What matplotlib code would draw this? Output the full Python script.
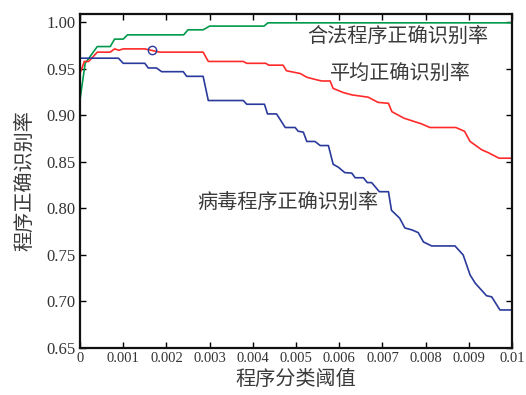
import matplotlib
matplotlib.use("Agg")
import matplotlib.pyplot as plt
from matplotlib.ticker import FixedLocator

# ---- data ----
green_x = [0, 0.00012, 0.0004, 0.0007, 0.0008, 0.0010, 0.0011, 0.0024, 0.0025, 0.00285, 0.0030, 0.00426, 0.00435, 0.0100]
green_y = [0.917, 0.956, 0.974, 0.974, 0.982, 0.982, 0.9866, 0.9866, 0.992, 0.992, 0.996, 0.996, 0.9995, 0.9995]

red_x = [0, 0.0001, 0.0002, 0.0004, 0.0007, 0.0008, 0.0009, 0.0010, 0.0011, 0.0015, 0.00185,
         0.00285, 0.00297, 0.00378, 0.00386, 0.0043, 0.00437, 0.0047, 0.00478, 0.0051, 0.00525,
         0.0055, 0.0056, 0.00579, 0.00586, 0.0061, 0.0063, 0.00667, 0.0069, 0.00714, 0.00722,
         0.0075, 0.0077, 0.0079, 0.0081, 0.0087, 0.0089, 0.00903, 0.0093, 0.00945, 0.0097, 0.0100]
red_y = [0.945, 0.958, 0.958, 0.968, 0.968, 0.9715, 0.970, 0.9715, 0.9715, 0.9715, 0.968,
         0.968, 0.958, 0.958, 0.956, 0.956, 0.954, 0.954, 0.948, 0.945, 0.941,
         0.938, 0.937, 0.937, 0.929, 0.9245, 0.922, 0.9196, 0.914, 0.913, 0.904,
         0.897, 0.894, 0.891, 0.887, 0.887, 0.883, 0.872, 0.863, 0.860, 0.854, 0.854]

blue_x = [0, 0.00089, 0.0010, 0.0015, 0.00158, 0.00177, 0.00189, 0.00239, 0.00247, 0.00285,
          0.00297, 0.00378, 0.00386, 0.00427, 0.00434, 0.00455, 0.00475, 0.00498, 0.00505, 0.00517,
          0.00525, 0.00544, 0.00556, 0.00575, 0.00586, 0.00598, 0.00613, 0.00629, 0.00637, 0.00656,
          0.00665, 0.00675, 0.00693, 0.00714, 0.00721, 0.0074, 0.00752, 0.00768, 0.00783, 0.00795,
          0.00814, 0.00868, 0.00887, 0.00903, 0.00915, 0.00941, 0.00953, 0.00972, 0.0100]
blue_y = [0.9615, 0.9615, 0.956, 0.956, 0.951, 0.951, 0.947, 0.947, 0.942, 0.942,
          0.916, 0.916, 0.912, 0.912, 0.9016, 0.9016, 0.887, 0.887, 0.883, 0.882,
          0.872, 0.872, 0.8676, 0.8676, 0.8475, 0.8443, 0.8385, 0.838, 0.833, 0.833,
          0.8278, 0.8278, 0.818, 0.818, 0.798, 0.7895, 0.779, 0.777, 0.774, 0.764,
          0.7597, 0.7597, 0.750, 0.7285, 0.7196, 0.7062, 0.705, 0.6909, 0.6909]

marker_x = [0.00167]
marker_y = [0.970]

x_ticks = [0, 0.001, 0.002, 0.003, 0.004, 0.005, 0.006, 0.007, 0.008, 0.009, 0.01]
x_tick_labels = ['0', '0.001', '0.002', '0.003', '0.004', '0.005', '0.006', '0.007', '0.008', '0.009', '0.01']
y_ticks = [0.65, 0.70, 0.75, 0.80, 0.85, 0.90, 0.95, 1.00]
y_tick_labels = ['0.65', '0.70', '0.75', '0.80', '0.85', '0.90', '0.95', '1.00']

label_legal = '合法程序正确识别率'
label_avg = '平均正确识别率'
label_virus = '病毒程序正确识别率'
x_label = '程序分类阈值'
y_label = '程序正确识别率'

# ---- figure ----
cjk = ['Noto Sans CJK SC', 'DejaVu Sans']
fig = plt.figure(figsize=(5.26, 3.95), dpi=100)
ax = fig.add_axes([80/526, 1-348/395, 432/526, 334/395])

ax.plot(green_x, green_y, color='#00994a', lw=1.2)
ax.plot(red_x, red_y, color='#ff2a2a', lw=1.2)
ax.plot(blue_x, blue_y, color='#2a3a9c', lw=1.2)
ax.plot(marker_x, marker_y, 'o', mfc='none', mec='#2a3a9c', ms=6, mew=1.0)

ax.set_xlim(0, 0.01)
ax.set_ylim(0.65, 1.009)
ax.xaxis.set_major_locator(FixedLocator(x_ticks))
ax.yaxis.set_major_locator(FixedLocator(y_ticks))
ax.set_xticklabels(x_tick_labels, family='Liberation Serif', size=10.5, color='#333333')
ax.set_yticklabels(y_tick_labels, family='Liberation Serif', size=12, color='#333333')
ax.tick_params(direction='in', length=4, width=1.0, top=True, right=True, pad=3)
for s in ax.spines.values():
    s.set_linewidth(1.6)
    s.set_color('#111111')

txt = dict(family=cjk, fontsize=14.5, fontweight='light', color='#3a3a3a', ha='center', va='center')
ax.text(0.00735, 0.9844, label_legal, **txt)
ax.text(0.00742, 0.9446, label_avg, **txt)
ax.text(0.00482, 0.806, label_virus, **txt)

ax.set_xlabel(x_label, family=cjk, fontsize=14.5, fontweight='light', color='#3a3a3a', labelpad=3)
ax.set_ylabel(y_label, family=cjk, fontsize=14.5, fontweight='light', color='#3a3a3a', labelpad=8)

fig.savefig('out.png', dpi=100)
